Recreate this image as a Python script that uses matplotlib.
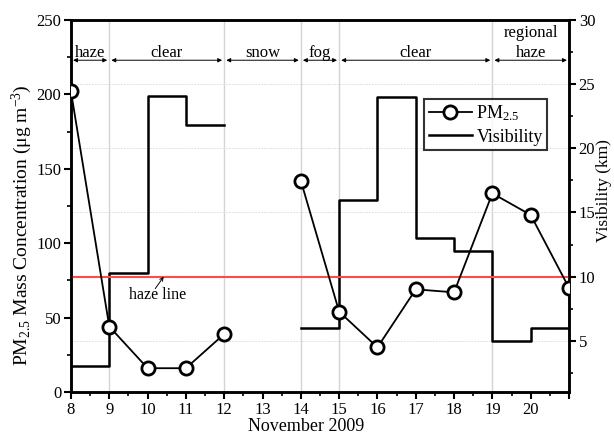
import numpy as np
import matplotlib
matplotlib.use("Agg")
import matplotlib.pyplot as plt
from matplotlib.ticker import MultipleLocator, FixedLocator, FixedFormatter
from matplotlib.lines import Line2D

plt.rcParams['font.family'] = ['Liberation Serif', 'DejaVu Serif']
plt.rcParams['mathtext.fontset'] = 'custom'
plt.rcParams['mathtext.rm'] = 'Liberation Serif'
plt.rcParams['mathtext.it'] = 'Liberation Serif:italic'

# ---- data ----
days = [8, 9, 10, 11, 12, 13, 14, 15, 16, 17, 18, 19, 20, 21]
pm25 = [202, 44, 16, 16, 39, np.nan, 142, 54, 30, 69, 67, 133.5, 119, 70]
visibility = [3, 10.3, 24.1, 21.8, np.nan, np.nan, 6, 16, 24, 13, 12, 5, 6, 6]
haze_line_vis = 10
periods = [(8, 9, 'haze'), (9, 12, 'clear'), (12, 14, 'snow'), (14, 15, 'fog'),
           (15, 19, 'clear'), (19, 21, 'regional\nhaze')]
boundaries = [9, 12, 14, 15, 19]
xtick_labels = ['8', '9', '10', '11', '12', '13', '14', '15', '16', '17', '18', '19', '20', '']

fig = plt.figure(figsize=(6.14, 4.36), dpi=100)
ax1 = fig.add_axes([0.1156, 0.1009, 0.8111, 0.8531])
ax2 = ax1.twinx()

ax1.set_zorder(ax2.get_zorder() + 1)
ax1.patch.set_visible(False)

# grid lines (on the lower axes, beneath the step line)
for b in boundaries:
    ax2.axvline(b, color='#d4d4d4', lw=1.0, zorder=0.5)
for g in [5, 15, 20, 25]:
    ax2.axhline(g, color='#e2e2e2', lw=0.7, ls=(0, (2, 1)), zorder=0.5)

# visibility step
ax2.step(days, visibility, where='post', color='black', lw=1.8, zorder=2)
# haze line
ax2.axhline(haze_line_vis, color='#ff4a4a', lw=1.5, zorder=3)

# PM2.5
pm_line, = ax1.plot(days, pm25, color='black', lw=1.3, marker='o', ms=9.5,
                    mfc='white', mec='black', mew=2.0, zorder=5)
pm_line.set_clip_path(ax1.patch)

ax1.set_xlim(8, 21)
ax1.set_ylim(0, 250)
ax2.set_ylim(1, 30)

ax1.xaxis.set_major_locator(FixedLocator(days))
ax1.xaxis.set_major_formatter(FixedFormatter(xtick_labels))
ax1.xaxis.set_minor_locator(MultipleLocator(0.5))
ax1.yaxis.set_major_locator(MultipleLocator(50))
ax1.yaxis.set_minor_locator(MultipleLocator(25))
ax2.yaxis.set_major_locator(FixedLocator([5, 10, 15, 20, 25, 30]))
ax2.yaxis.set_minor_locator(FixedLocator([2.5, 7.5, 12.5, 17.5, 22.5, 27.5]))

for ax in (ax1, ax2):
    ax.tick_params(which='major', direction='out', length=5, width=1.5, labelsize=12)
    ax.tick_params(which='minor', direction='out', length=3, width=1.2)
    for s in ax.spines.values():
        s.set_linewidth(1.8)
ax1.tick_params(axis='x', top=False, which='both', pad=2)
ax1.tick_params(axis='y', pad=2)
ax2.tick_params(axis='y', pad=2)

# axis labels placed as figure text to match reference positions
fig.text(0.0358, 0.484, 'PM$_{2.5}$ Mass Concentration (μg m$^{-3}$)',
         rotation=90, ha='center', va='center', fontsize=14)
fig.text(0.9845, 0.562, 'Visibility (km)', rotation=90, ha='center', va='center',
         fontsize=12.5)
fig.text(0.498, 0.022, 'November 2009', ha='center', va='center', fontsize=13)

# period arrows & labels
yarr = 223
for (a, b, lab) in periods:
    ax1.annotate('', xy=(b, yarr), xytext=(a, yarr),
                 arrowprops=dict(arrowstyle='<|-|>', color='black', lw=0.7,
                                 mutation_scale=6, shrinkA=1.5, shrinkB=1.5),
                 zorder=6)
    if '\n' in lab:
        l1, l2 = lab.split('\n')
        ax1.text((a + b) / 2, 238.5, l1, ha='center', va='baseline', fontsize=12)
        ax1.text((a + b) / 2, 225.5, l2, ha='center', va='baseline', fontsize=12)
    else:
        ax1.text((a + b) / 2, 225.5, lab, ha='center', va='baseline', fontsize=12)

# haze line annotation
ax1.text(10.25, 65, 'haze line', ha='center', va='center', fontsize=11.5)
ax1.annotate('', xy=(10.42, 77.5), xytext=(10.2, 69.5),
             arrowprops=dict(arrowstyle='->', color='black', lw=0.7,
                             mutation_scale=6, shrinkA=0, shrinkB=0))

# legend
handles = [Line2D([], [], color='black', lw=1.3, marker='o', ms=9.5, mfc='white',
                  mec='black', mew=2.0),
           Line2D([], [], color='black', lw=1.8)]
leg = ax1.legend(handles, [r'PM$_{\mathregular{2.5}}$', 'Visibility'],
                 loc='upper left', bbox_to_anchor=(0.709, 0.788),
                 fontsize=13, frameon=True, fancybox=False, handlelength=2.4,
                 borderpad=0.25, labelspacing=0.3, handletextpad=0.25,
                 borderaxespad=0)
leg.get_frame().set_edgecolor('black')
leg.get_frame().set_linewidth(1.5)
leg.set_zorder(10)

fig.savefig('out.png', dpi=100)
